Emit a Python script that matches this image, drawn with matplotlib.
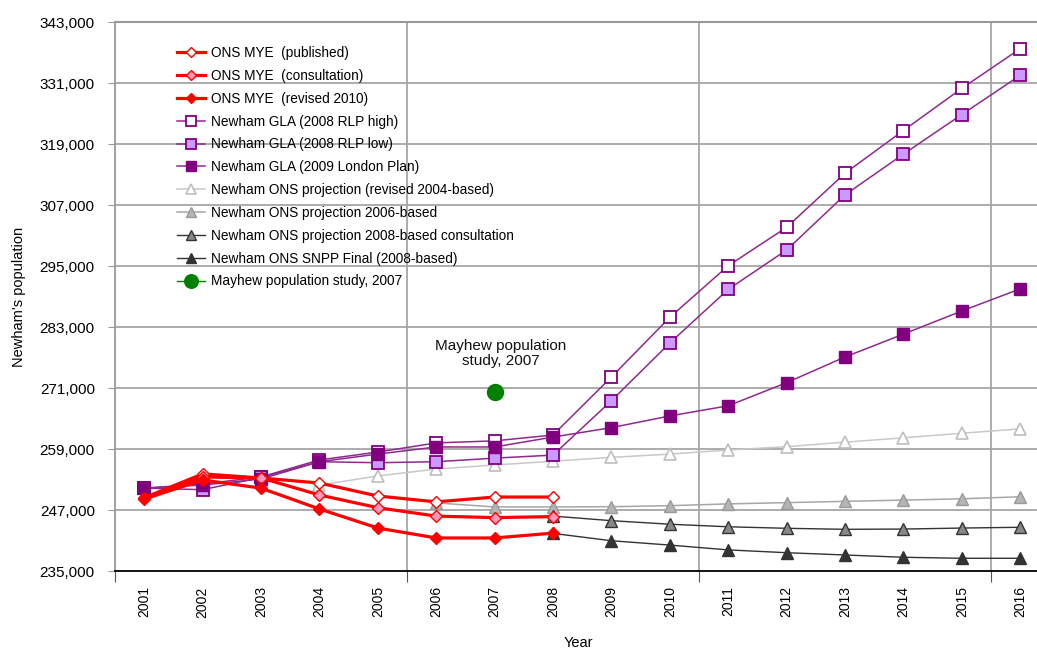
import matplotlib
matplotlib.use("Agg")
import matplotlib.pyplot as plt
import numpy as np
from matplotlib.ticker import FuncFormatter

plt.rcParams['font.family'] = ['Liberation Sans', 'DejaVu Sans']

years = list(range(2001, 2017))
years_mye = list(range(2001, 2009))
years_rev04 = list(range(2004, 2017))
years_06 = list(range(2006, 2017))
years_08 = list(range(2008, 2017))

mye_published = [249400, 254100, 253300, 252300, 249750, 248600, 249550, 249550]
mye_consultation = [249400, 253500, 253300, 249950, 247450, 245800, 245500, 245700]
mye_revised2010 = [249150, 252900, 251300, 247200, 243450, 241500, 241500, 242450]

gla_rlp_high = [251300, 252100, 253500, 256850, 258400, 260200, 260600, 261750,
                273150, 284900, 295050, 302600, 313250, 321650, 329950, 337750]
gla_rlp_low = [251300, 251000, 253400, 256500, 256300, 256500, 257200, 257800,
               268500, 279850, 290400, 298150, 309000, 317000, 324800, 332500]
gla_london_plan = [251300, 251900, 253100, 256500, 258000, 259400, 259400, 261350,
                   263200, 265500, 267500, 272050, 277100, 281600, 286150, 290500]

ons_rev2004 = [251900, 253700, 255050, 255850, 256600, 257350, 258000, 258800,
               259450, 260350, 261200, 262100, 262950]
ons_2006 = [248400, 247600, 247600, 247650, 247850, 248200, 248450, 248700,
            248950, 249200, 249600]
ons_2008_consult = [245800, 244900, 244200, 243700, 243400, 243200, 243250, 243450, 243600]
snpp_final_2008 = [242400, 240950, 240100, 239150, 238600, 238150, 237700, 237500, 237500]

mayhew_year = [2007]
mayhew_value = [270150]

y_ticks = list(range(235000, 343001, 12000))
x_labels = [str(y) for y in years]

W, H = 1037, 653
fig = plt.figure(figsize=(W / 100, H / 100), dpi=100)
ax = fig.add_axes([115 / W, 1 - 571 / H, 922 / W, (571 - 22) / H])

grid_c = '#A6A6A6'
purple = '#800080'
pline = '#8E2A8E'

# grid
for yv in y_ticks[1:]:
    ax.axhline(yv, color=grid_c, lw=1.3, zorder=0)
for xv in [2005.5, 2010.5, 2015.5]:
    ax.axvline(xv, color=grid_c, lw=1.3, zorder=0)

red_lw = 2.3
ax.plot(years_mye, mye_published, color='#FF0000', lw=red_lw, marker='D', ms=6.5,
        mfc='white', mec='#FF0000', mew=1.0, label='ONS MYE  (published)', zorder=5)
ax.plot(years_mye, mye_consultation, color='#FF0000', lw=red_lw, marker='D', ms=6.5,
        mfc='#FF99BB', mec='#FF0000', mew=1.0, label='ONS MYE  (consultation)', zorder=5)
ax.plot(years_mye, mye_revised2010, color='#FF0000', lw=red_lw, marker='D', ms=6.5,
        mfc='#FF0000', mec='#FF0000', mew=1.0, label='ONS MYE  (revised 2010)', zorder=5)

ax.plot(years, gla_rlp_high, color=pline, lw=1.1, marker='s', ms=8,
        mfc='white', mec=purple, mew=1.3, label='Newham GLA (2008 RLP high)', zorder=4)
ax.plot(years, gla_rlp_low, color=pline, lw=1.1, marker='s', ms=8,
        mfc='#CC99FF', mec=purple, mew=1.3, label='Newham GLA (2008 RLP low)', zorder=4)
ax.plot(years, gla_london_plan, color=pline, lw=1.1, marker='s', ms=8,
        mfc=purple, mec=purple, mew=1.0, label='Newham GLA (2009 London Plan)', zorder=4)

ax.plot(years_rev04, ons_rev2004, color='#C8C8C8', lw=1.1, marker='^', ms=9,
        mfc='white', mec='#BEBEBE', mew=1.2, label='Newham ONS projection (revised 2004-based)', zorder=3)
ax.plot(years_06, ons_2006, color='#A6A6A6', lw=1.1, marker='^', ms=9,
        mfc='#B4B4B4', mec='#999999', mew=1.0, label='Newham ONS projection 2006-based', zorder=3)
ax.plot(years_08, ons_2008_consult, color='#333333', lw=1.0, marker='^', ms=9,
        mfc='#888888', mec='#333333', mew=1.0, label='Newham ONS projection 2008-based consultation', zorder=3)
ax.plot(years_08, snpp_final_2008, color='#333333', lw=1.0, marker='^', ms=9,
        mfc='#333333', mec='#333333', mew=1.0, label='Newham ONS SNPP Final (2008-based)', zorder=3)

ax.plot(mayhew_year, mayhew_value, color='#008000', lw=1.0, marker='o', ms=11.5,
        linestyle='-', label='Mayhew population study, 2007', zorder=6)

ax.text(2007.1, 274900, 'Mayhew population\nstudy, 2007', ha='center', va='bottom',
        fontsize=11, color='#111111', linespacing=1.1)

ax.set_xlim(2000.5, 2000.5 + 922 / 58.4)
ax.set_ylim(235000, 343000)

ax.set_yticks(y_ticks)
ax.yaxis.set_major_formatter(FuncFormatter(lambda v, p: f'{int(v):,}'))
ax.tick_params(axis='y', direction='out', length=5, color='#999999', labelsize=11, pad=9.5)

ax.set_xticks([2000.5, 2005.5, 2010.5, 2015.5])
ax.set_xticklabels([])
ax.set_xticks(years, minor=True)
ax.set_xticklabels(x_labels, minor=True, rotation=90, fontsize=10)
ax.tick_params(axis='x', which='major', direction='out', length=8, color='#555555')
ax.tick_params(axis='x', which='minor', length=0, pad=11)

for s in ['top', 'right']:
    ax.spines[s].set_visible(False)
ax.spines['left'].set_color('#999999')
ax.spines['left'].set_linewidth(1.3)
ax.spines['bottom'].set_color('#000000')
ax.spines['bottom'].set_linewidth(1.3)
ax.axhline(343000, color='#999999', lw=1.5, zorder=0, clip_on=False)

ax.set_ylabel("Newham's population", fontsize=10.5)
ax.set_xlabel('Year', fontsize=10.5)
ax.yaxis.set_label_coords(-(115 - 19) / 922, 0.5)
ax.xaxis.set_label_coords((578 - 115) / 922, -(643 - 571) / 549)
ax.xaxis.label.set_va('center')
ax.yaxis.label.set_va('center')

leg = ax.legend(loc='upper left', bbox_to_anchor=(177 / W, 1 - 46 / H),
                bbox_transform=fig.transFigure, frameon=False, fontsize=9.8,
                handlelength=2.05, handletextpad=0.45, labelspacing=0.65,
                borderaxespad=0, borderpad=0, markerscale=0.85)

fig.savefig('out.png', dpi=100)
